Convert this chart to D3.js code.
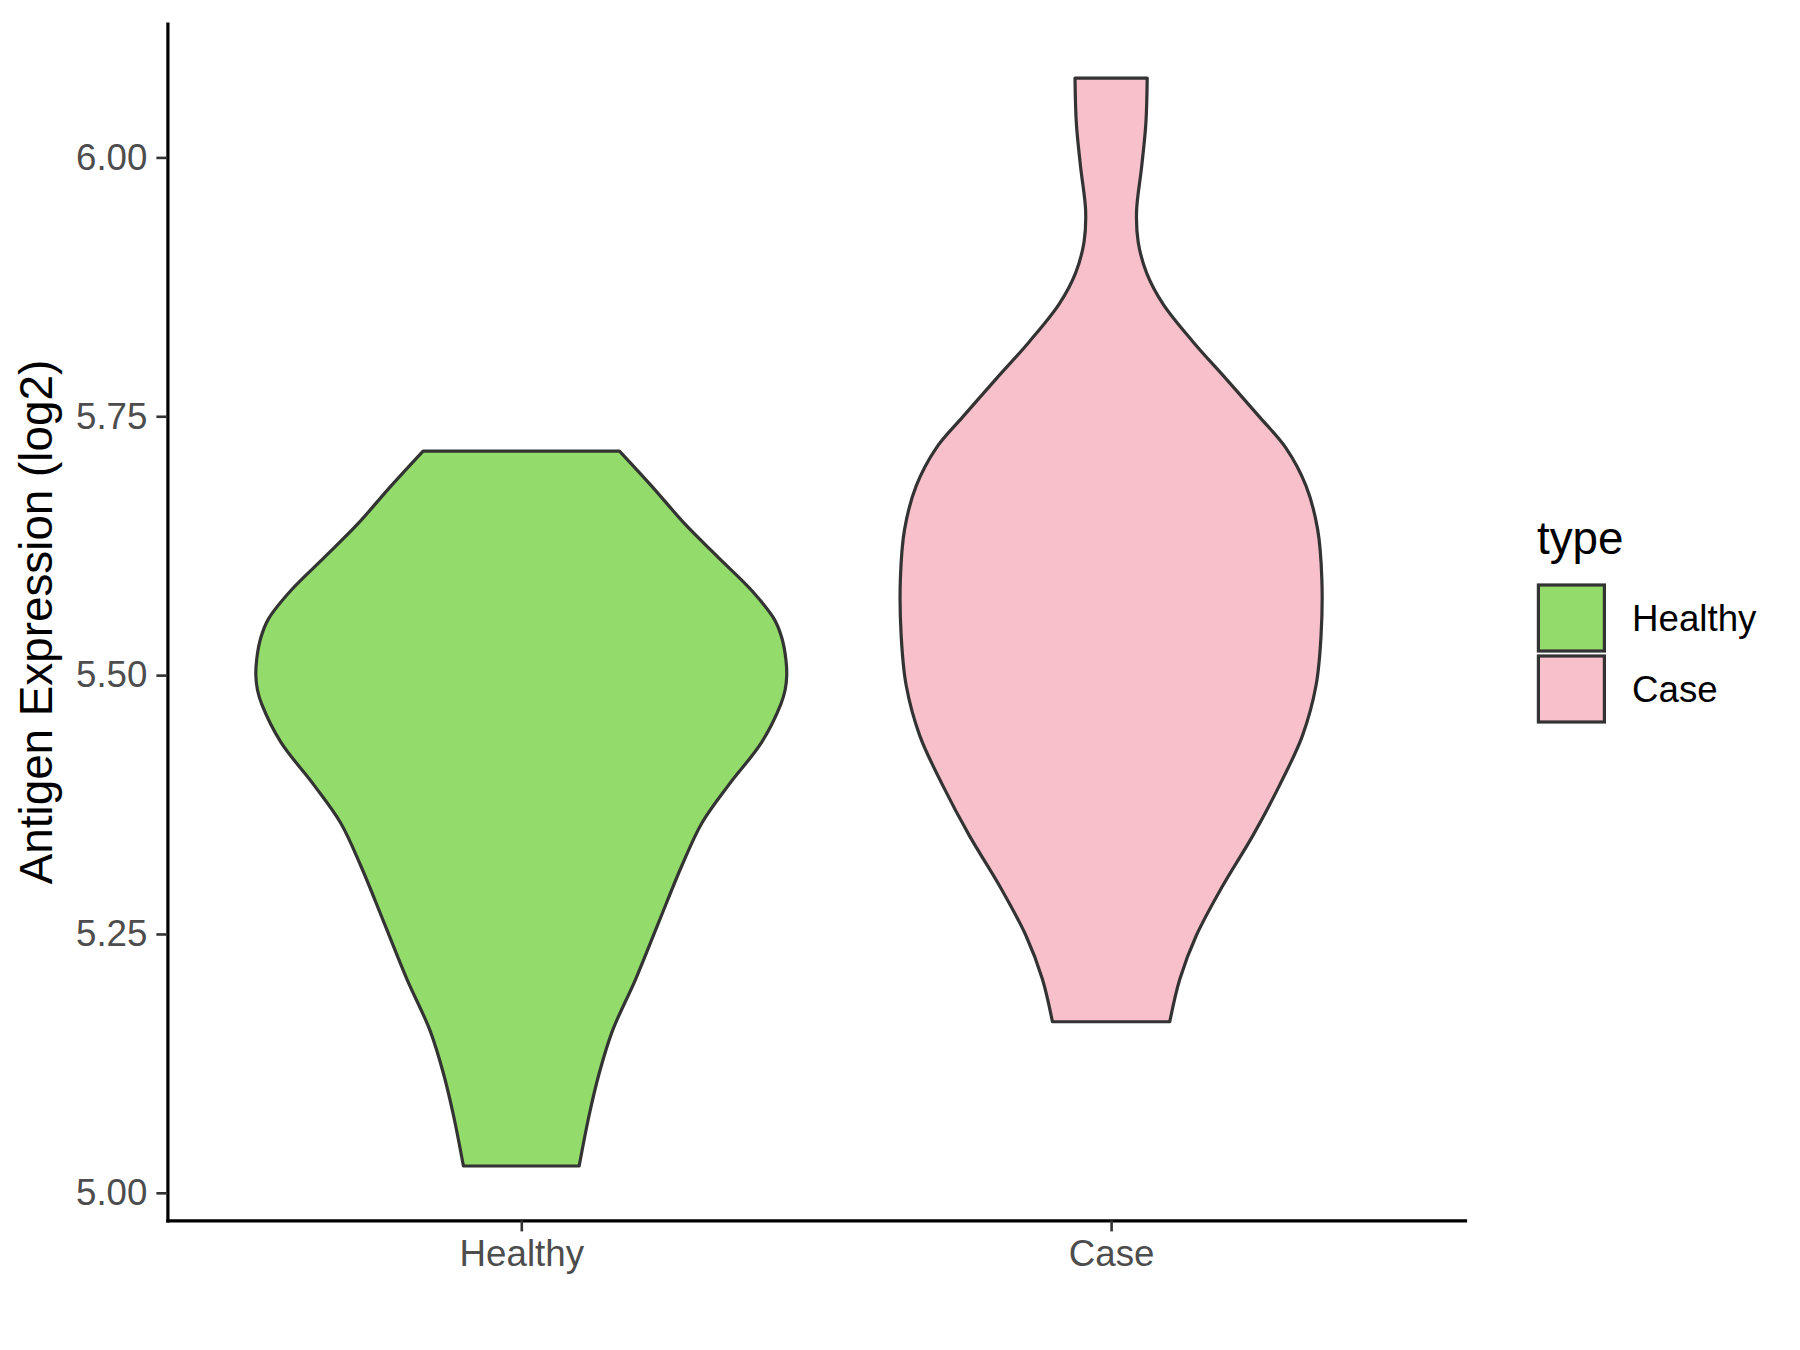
<!DOCTYPE html>
<html>
<head>
<meta charset="utf-8">
<script src="https://cdn.jsdelivr.net/npm/d3@7"></script>
<style>
  html, body { margin: 0; padding: 0; background: #ffffff; }
  svg { display: block; font-family: "Liberation Sans", Arial, sans-serif; }
</style>
</head>
<body>
<svg id="chart" width="1800" height="1350"></svg>
<script>
// ---- data ----
const categories = ["Healthy", "Case"];
const fillColors = ["#93DB6A", "#F7C0CB"];
const yTicks = [5.00, 5.25, 5.50, 5.75, 6.00];

// violin outlines: expression values and relative density (half-width)
const healthyValues = [5.0259, 5.0742, 5.1150, 5.1562, 5.2065, 5.2615, 5.3166, 5.3574, 5.3938, 5.4353,
                       5.4720, 5.4856, 5.4991, 5.5150, 5.5356, 5.5541, 5.5815, 5.6135, 5.6455, 5.6821, 5.7164];
const healthyDensity = [0.218, 0.255, 0.293, 0.343, 0.431, 0.518, 0.606, 0.681, 0.781, 0.906,
                        0.978, 0.994, 1.000, 0.997, 0.982, 0.953, 0.869, 0.743, 0.618, 0.493, 0.370];

const caseValues = [5.1652, 5.2065, 5.2485, 5.2968, 5.3450, 5.3933, 5.4416, 5.4899, 5.5382, 5.5927,
                    5.6410, 5.6830, 5.7193, 5.7494, 5.7859, 5.8218, 5.8583, 5.8883, 5.9184, 5.9486,
                    5.9908, 6.0331, 6.0766];
const caseDensity = [0.221, 0.259, 0.321, 0.421, 0.534, 0.634, 0.721, 0.772, 0.791, 0.794,
                     0.778, 0.734, 0.659, 0.559, 0.434, 0.309, 0.196, 0.134, 0.102, 0.096,
                     0.115, 0.131, 0.136];

const violins = [
  { cat: "Healthy", values: healthyValues, density: healthyDensity },
  { cat: "Case", values: caseValues, density: caseDensity }
];

// ---- layout ----
const svg = d3.select("#chart");
const panel = { left: 167.4, right: 1465, top: 23.7, bottom: 1220.4 };
const outline = "#333333";

const allVals = healthyValues.concat(caseValues);
const [vmin, vmax] = d3.extent(allVals);
const pad = (vmax - vmin) * 0.05;
const y = d3.scaleLinear().domain([vmin - pad, vmax + pad]).range([panel.bottom, panel.top]);
const x = d3.scalePoint().domain(categories).range([panel.left, panel.right]).padding(0.6);
const w = d3.scaleLinear().domain([0, 1]).range([0, 0.45 * x.step()]);
const color = d3.scaleOrdinal().domain(categories).range(fillColors);

// ---- violins ----
violins.forEach(v => {
  const pts = v.values.map((val, i) => ({ val, d: v.density[i] }));
  const cx = x(v.cat);
  const area = d3.area()
    .y(p => y(p.val))
    .x0(p => cx - w(p.d))
    .x1(p => cx + w(p.d))
    .curve(d3.curveCatmullRom.alpha(0.5));
  svg.append("path")
    .attr("d", area(pts))
    .attr("fill", color(v.cat))
    .attr("stroke", outline)
    .attr("stroke-width", 3.2)
    .attr("stroke-linejoin", "round");
});

// ---- axes ----
const yAxis = d3.axisLeft(y).tickValues(yTicks).tickFormat(d3.format(".2f"))
  .tickSize(11).tickSizeOuter(0).tickPadding(9);
const gy = svg.append("g").attr("transform", `translate(${panel.left},0)`).call(yAxis);
gy.select(".domain").attr("stroke", "#000000").attr("stroke-width", 3.2).attr("stroke-linecap", "square");
gy.selectAll(".tick line").attr("stroke", outline).attr("stroke-width", 2.6);
gy.selectAll(".tick text").attr("fill", "#4D4D4D").attr("font-size", 36.7)
  .attr("font-family", "'Liberation Sans', Arial, sans-serif");

const xAxis = d3.axisBottom(x).tickSize(11).tickSizeOuter(0).tickPadding(9);
const gx = svg.append("g").attr("transform", `translate(0,${panel.bottom})`).call(xAxis);
gx.select(".domain").attr("stroke", "#000000").attr("stroke-width", 3.2).attr("stroke-linecap", "square");
gx.selectAll(".tick line").attr("stroke", outline).attr("stroke-width", 2.6);
gx.selectAll(".tick text").attr("fill", "#4D4D4D").attr("font-size", 36.7)
  .attr("font-family", "'Liberation Sans', Arial, sans-serif");

// y axis title
svg.append("text")
  .attr("transform", `translate(52,${(panel.top + panel.bottom) / 2}) rotate(-90)`)
  .attr("text-anchor", "middle")
  .attr("font-size", 45.8)
  .attr("fill", "#000000")
  .text("Antigen Expression (log2)");

// ---- legend ----
const lg = svg.append("g").attr("transform", "translate(1537,0)");
lg.append("text").attr("x", 0).attr("y", 554).attr("font-size", 45.8).attr("fill", "#000").text("type");
const keyTop = [585, 656];
categories.forEach((c, i) => {
  lg.append("rect")
    .attr("x", 1.4).attr("y", keyTop[i])
    .attr("width", 66).attr("height", 66)
    .attr("fill", color(c))
    .attr("stroke", outline)
    .attr("stroke-width", 3.2);
  lg.append("text")
    .attr("x", 95).attr("y", keyTop[i] + 33 + 13)
    .attr("font-size", 36.7)
    .attr("fill", "#000")
    .text(c);
});
</script>
</body>
</html>
